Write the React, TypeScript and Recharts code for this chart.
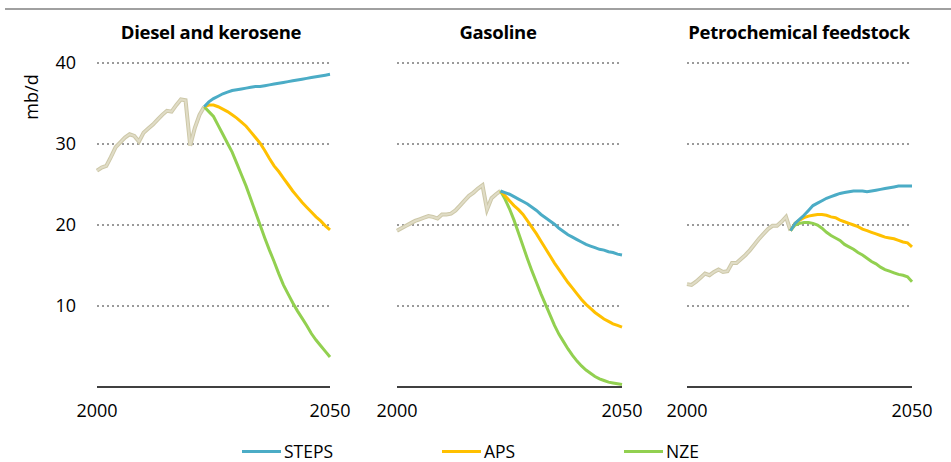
import React from "react";
import { LineChart, Line, XAxis, YAxis, CartesianGrid } from "recharts";

const FONT = '"Open Sans", "Noto Sans", sans-serif';

const histYears = [
  2000, 2001, 2002, 2003, 2004, 2005, 2006, 2007, 2008, 2009, 2010, 2011,
  2012, 2013, 2014, 2015, 2016, 2017, 2018, 2019, 2020, 2021, 2022, 2023,
];
const projYears = [
  2023, 2024, 2025, 2026, 2027, 2028, 2029, 2030, 2031, 2032, 2033, 2034,
  2035, 2036, 2037, 2038, 2039, 2040, 2041, 2042, 2043, 2044, 2045, 2046,
  2047, 2048, 2049, 2050,
];

// Diesel and kerosene
const dieselHist = [
  26.7, 27.1, 27.3, 28.4, 29.6, 30.2, 30.8, 31.2, 31.0, 30.3, 31.4, 31.9,
  32.4, 33.0, 33.6, 34.1, 34.0, 34.8, 35.5, 35.4, 29.8, 32.0, 33.6, 34.6,
];
const dieselSteps = [
  34.6, 35.2, 35.6, 35.9, 36.2, 36.4, 36.6, 36.7, 36.8, 36.9, 37.0, 37.1,
  37.1, 37.2, 37.3, 37.4, 37.5, 37.6, 37.7, 37.8, 37.9, 38.0, 38.1, 38.2,
  38.3, 38.4, 38.5, 38.6,
];
const dieselAps = [
  34.6, 34.8, 34.8, 34.6, 34.3, 34.0, 33.6, 33.2, 32.7, 32.2, 31.5, 30.8,
  30.1, 29.2, 28.2, 27.3, 26.6, 25.8, 25.0, 24.2, 23.5, 22.8, 22.2, 21.6,
  21.0, 20.5, 19.9, 19.4,
];
const dieselNze = [
  34.6, 34.0, 33.4, 32.3, 31.2, 30.1, 29.0, 27.6, 26.2, 24.8, 23.2, 21.6,
  20.0, 18.4, 16.9, 15.5, 14.0, 12.6, 11.5, 10.4, 9.4, 8.5, 7.6, 6.6, 5.8,
  5.1, 4.4, 3.7,
];

// Gasoline
const gasolineHist = [
  19.3, 19.6, 19.9, 20.2, 20.5, 20.7, 20.9, 21.1, 21.0, 20.8, 21.3, 21.3,
  21.4, 21.8, 22.4, 23.0, 23.6, 24.0, 24.5, 24.9, 21.9, 23.3, 23.8, 24.2,
];
const gasolineSteps = [
  24.2, 24.0, 23.8, 23.5, 23.2, 22.9, 22.6, 22.2, 21.8, 21.3, 20.9, 20.5,
  20.1, 19.6, 19.2, 18.8, 18.5, 18.2, 17.9, 17.6, 17.4, 17.2, 17.0, 16.9,
  16.7, 16.6, 16.4, 16.3,
];
const gasolineAps = [
  24.2, 23.6, 23.0, 22.4, 21.9, 21.3, 20.5, 19.7, 18.9, 18.0, 17.1, 16.2,
  15.3, 14.5, 13.7, 12.9, 12.2, 11.5, 10.8, 10.2, 9.7, 9.2, 8.8, 8.4, 8.1,
  7.8, 7.6, 7.4,
];
const gasolineNze = [
  24.2, 23.2, 22.0, 20.6, 19.0, 17.4, 15.8, 14.3, 12.9, 11.5, 10.2, 8.9, 7.6,
  6.5, 5.6, 4.7, 3.9, 3.2, 2.6, 2.1, 1.7, 1.3, 1.0, 0.8, 0.6, 0.5, 0.4, 0.3,
];

// Petrochemical feedstock
const petchemHist = [
  12.7, 12.6, 13.0, 13.5, 14.0, 13.8, 14.2, 14.5, 14.2, 14.3, 15.3, 15.3,
  15.8, 16.3, 16.9, 17.6, 18.3, 18.9, 19.5, 19.9, 19.9, 20.4, 21.0, 19.3,
];
const petchemSteps = [
  19.3, 20.2, 20.7, 21.2, 21.8, 22.4, 22.7, 23.0, 23.3, 23.5, 23.7, 23.9,
  24.0, 24.1, 24.2, 24.2, 24.2, 24.1, 24.2, 24.3, 24.4, 24.5, 24.6, 24.7,
  24.8, 24.8, 24.8, 24.8,
];
const petchemAps = [
  19.3, 20.2, 20.6, 20.9, 21.1, 21.2, 21.3, 21.3, 21.2, 21.0, 20.9, 20.6,
  20.4, 20.2, 20.0, 19.8, 19.5, 19.3, 19.1, 18.9, 18.7, 18.5, 18.4, 18.3,
  18.1, 17.9, 17.8, 17.3,
];
const petchemNze = [
  19.3, 20.0, 20.2, 20.3, 20.3, 20.2, 20.0, 19.6, 19.1, 18.7, 18.4, 18.1,
  17.6, 17.3, 17.0, 16.6, 16.3, 15.9, 15.5, 15.2, 14.8, 14.5, 14.3, 14.1,
  13.9, 13.8, 13.6, 13.0,
];

const yTicks = [10, 20, 30, 40];
const xTicks = [2000, 2050];

const COLORS = {
  hist: "#e0dcc6",
  histEdge: "#cdc8a8",
  steps: "#4bacc6",
  aps: "#ffc000",
  nze: "#92d050",
};

function buildRows(hist: number[], steps: number[], aps: number[], nze: number[]) {
  const rows: Record<number, any> = {};
  histYears.forEach((y, i) => {
    rows[y] = { year: y, hist: hist[i] };
  });
  projYears.forEach((y, i) => {
    rows[y] = { ...(rows[y] || { year: y }), steps: steps[i], aps: aps[i], nze: nze[i] };
  });
  return Object.values(rows).sort((a: any, b: any) => a.year - b.year);
}

const XTick = (props: any) => (
  <text x={props.x} y={417} textAnchor="middle" fontSize={18} fontFamily={FONT} fill="#000">
    {props.payload.value}
  </text>
);

const YTick = (props: any) => (
  <text x={76} y={props.y} dy="0.35em" textAnchor="end" fontSize={18} fontFamily={FONT} fill="#000">
    {props.payload.value}
  </text>
);

interface PanelProps {
  left: number;
  width: number;
  marginLeft: number;
  marginRight: number;
  showY: boolean;
  hist: number[];
  steps: number[];
  aps: number[];
  nze: number[];
}

function Panel({ left, width, marginLeft, marginRight, showY, hist, steps, aps, nze }: PanelProps) {
  const data = buildRows(hist, steps, aps, nze);
  return (
    <div style={{ position: "absolute", left, top: 0 }}>
      <LineChart
        width={width}
        height={462}
        data={data}
        margin={{ top: 63, right: marginRight, bottom: 45, left: marginLeft }}
      >
        <CartesianGrid
          horizontal
          vertical={false}
          stroke="#9a9a9a"
          strokeWidth={2}
          strokeDasharray="2 3"
          horizontalValues={yTicks}
        />
        <XAxis
          dataKey="year"
          type="number"
          domain={[2000, 2050]}
          ticks={xTicks}
          height={30}
          tickLine={false}
          axisLine={{ stroke: "#000", strokeWidth: 1.5 }}
          tick={<XTick />}
          interval={0}
        />
        <YAxis
          type="number"
          domain={[0, 40]}
          ticks={yTicks}
          hide={!showY}
          width={60}
          axisLine={false}
          tickLine={false}
          tick={<YTick />}
          interval={0}
        />
        <Line dataKey="hist" stroke={COLORS.histEdge} strokeWidth={4} dot={false} isAnimationActive={false} />
        <Line dataKey="hist" stroke={COLORS.hist} strokeWidth={2} dot={false} isAnimationActive={false} />
        <Line dataKey="nze" stroke={COLORS.nze} strokeWidth={3} dot={false} isAnimationActive={false} />
        <Line dataKey="aps" stroke={COLORS.aps} strokeWidth={3} dot={false} isAnimationActive={false} />
        <Line dataKey="steps" stroke={COLORS.steps} strokeWidth={3} dot={false} isAnimationActive={false} />
      </LineChart>
    </div>
  );
}

const titleStyle: React.CSSProperties = {
  position: "absolute",
  top: 19,
  fontFamily: FONT,
  fontWeight: 700,
  fontSize: 18.5,
  letterSpacing: -0.3,
  color: "#000",
  whiteSpace: "nowrap",
  transform: "translateX(-50%)",
};

const legendItems = [
  { name: "STEPS", color: COLORS.steps, left: 242 },
  { name: "APS", color: COLORS.aps, left: 442 },
  { name: "NZE", color: COLORS.nze, left: 624 },
];

export default function App() {
  return (
    <div style={{ position: "absolute", left: 0, top: 0, width: 951, height: 462, background: "#fff", overflow: "hidden" }}>
      <div style={{ position: "absolute", left: 5, top: 8, width: 946, height: 2, background: "#a0a0a0" }} />
      <Panel left={0} width={360} marginLeft={37} marginRight={30} showY hist={dieselHist} steps={dieselSteps} aps={dieselAps} nze={dieselNze} />
      <Panel left={360} width={290} marginLeft={37} marginRight={28} showY={false} hist={gasolineHist} steps={gasolineSteps} aps={gasolineAps} nze={gasolineNze} />
      <Panel left={650} width={301} marginLeft={37} marginRight={39} showY={false} hist={petchemHist} steps={petchemSteps} aps={petchemAps} nze={petchemNze} />
      <div style={{ ...titleStyle, left: 211 }}>Diesel and kerosene</div>
      <div style={{ ...titleStyle, left: 498 }}>Gasoline</div>
      <div style={{ ...titleStyle, left: 799 }}>Petrochemical feedstock</div>
      <div
        style={{
          position: "absolute",
          left: 31,
          top: 97,
          transform: "translate(-50%, -50%) rotate(-90deg)",
          fontFamily: FONT,
          fontSize: 18,
          whiteSpace: "nowrap",
        }}
      >
        mb/d
      </div>
      {legendItems.map((it) => (
        <div
          key={it.name}
          style={{
            position: "absolute",
            left: it.left,
            top: 441,
            height: 20,
            lineHeight: "20px",
            display: "flex",
            alignItems: "center",
            fontFamily: FONT,
            fontSize: 17.5,
          }}
        >
          <span style={{ display: "inline-block", width: 39, height: 3, background: it.color, marginRight: 3 }} />
          <span>{it.name}</span>
        </div>
      ))}
    </div>
  );
}
